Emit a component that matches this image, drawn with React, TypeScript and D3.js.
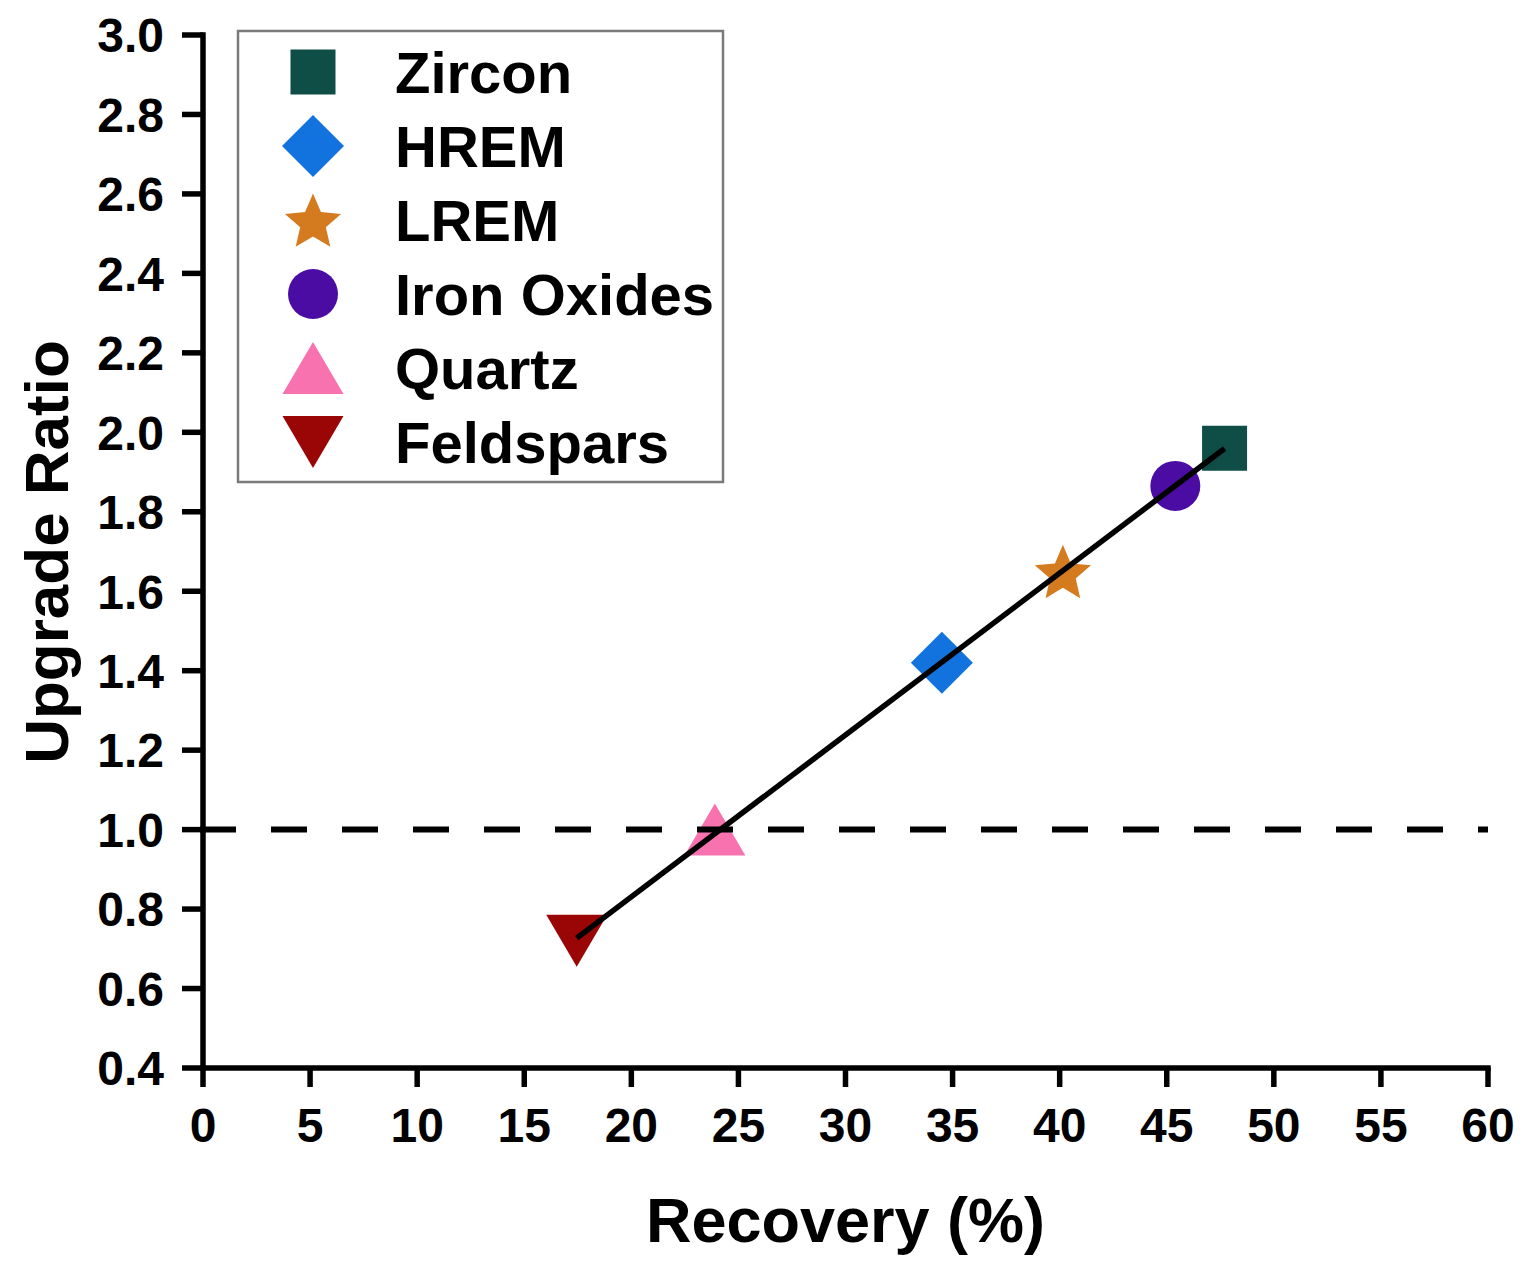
import React from 'react';
import * as d3 from 'd3';

// ---- data ----
const categories = ['Zircon', 'HREM', 'LREM', 'Iron Oxides', 'Quartz', 'Feldspars'];
const recovery = [47.7, 34.5, 40.15, 45.4, 23.9, 17.45];
const upgradeRatio = [1.96, 1.42, 1.65, 1.865, 1.0, 0.72];
const markerColors = ['#0f4d47', '#1373de', '#d47b1f', '#4a0ca3', '#f872b0', '#9a0505'];
const markerShapes = ['square', 'diamond', 'star', 'circle', 'triangleUp', 'triangleDown'];
const xTicks = [0, 5, 10, 15, 20, 25, 30, 35, 40, 45, 50, 55, 60];
const yTicks = [0.4, 0.6, 0.8, 1.0, 1.2, 1.4, 1.6, 1.8, 2.0, 2.2, 2.4, 2.6, 2.8, 3.0];
const referenceLevel = 1.0;
const xTitle = 'Recovery (%)';
const yTitle = 'Upgrade Ratio';

// ---- layout ----
const W = 1527;
const H = 1265;
const M = { left: 203, right: 1488, top: 35, bottom: 1068 };
const FONT = "'Liberation Sans', Arial, Helvetica, sans-serif";

const x = d3.scaleLinear().domain([0, 60]).range([M.left, M.right]);
const y = d3.scaleLinear().domain([0.4, 3.0]).range([M.bottom, M.top]);

const custom = (fn: (ctx: any) => void) => ({ draw: (ctx: any) => fn(ctx) });
const starDraw = (c: any) => {
  const ro = 29.5, ri = 13.5;
  for (let k = 0; k < 10; k++) {
    const r = k % 2 === 0 ? ro : ri;
    const a = (k * Math.PI) / 5 - Math.PI / 2;
    if (k === 0) c.moveTo(r * Math.cos(a), r * Math.sin(a));
    else c.lineTo(r * Math.cos(a), r * Math.sin(a));
  }
  c.closePath();
};
const symbolTypes: Record<string, any> = {
  square: custom((c) => { c.rect(-22.5, -22.5, 45, 45); }),
  diamond: custom((c) => { c.moveTo(0, -31); c.lineTo(31, 0); c.lineTo(0, 31); c.lineTo(-31, 0); c.closePath(); }),
  circle: custom((c) => { c.moveTo(25, 0); c.arc(0, 0, 25, 0, Math.PI * 2); c.closePath(); }),
  star: custom(starDraw),
  triangleUp: custom((c) => { c.moveTo(0, -26); c.lineTo(30.5, 26); c.lineTo(-30.5, 26); c.closePath(); }),
  triangleDown: custom((c) => { c.moveTo(0, 26); c.lineTo(30.5, -26); c.lineTo(-30.5, -26); c.closePath(); }),
};
const markerPath = (shape: string) => d3.symbol().type(symbolTypes[shape])() as string;
const starOffset = (shape: string) => (shape === 'star' ? 3 : 0);

// least squares fit
const mx = d3.mean(recovery) as number;
const my = d3.mean(upgradeRatio) as number;
let sxy = 0, sxx = 0;
recovery.forEach((v, i) => { sxy += (v - mx) * (upgradeRatio[i] - my); sxx += (v - mx) * (v - mx); });
const slope = sxy / sxx;
const intercept = my - slope * mx;
const [xmin, xmax] = d3.extent(recovery) as [number, number];
const fitLine = d3.line<number>().x((d) => x(d)).y((d) => y(intercept + slope * d))([xmin, xmax]) as string;

export default function App() {
  const legendX = 238, legendY = 31, legendW = 485, legendH = 451;
  const legendRow0 = 72, legendStep = 74;
  return (
    <svg width={W} height={H} style={{ position: 'absolute', left: 0, top: 0, background: '#fff' }} fontFamily={FONT}>
      <rect x={0} y={0} width={W} height={H} fill="#fff" />
      {/* markers */}
      {categories.map((c, i) => (
        <path key={c} d={markerPath(markerShapes[i])}
          transform={`translate(${x(recovery[i])},${y(upgradeRatio[i]) + starOffset(markerShapes[i])})`}
          fill={markerColors[i]} />
      ))}
      {/* reference dashed line */}
      <line x1={x(0) - 3} x2={x(60)} y1={y(referenceLevel)} y2={y(referenceLevel)}
        stroke="#000" strokeWidth={6} strokeDasharray="36 35" />
      {/* fit line */}
      <path d={fitLine} stroke="#000" strokeWidth={5.5} fill="none" />
      {/* y axis */}
      <line x1={M.left} x2={M.left} y1={M.top - 2.75} y2={M.bottom + 2.75} stroke="#000" strokeWidth={5.5} />
      {yTicks.map((t) => (
        <g key={t} transform={`translate(0,${y(t)})`}>
          <line x1={M.left - 21} x2={M.left} stroke="#000" strokeWidth={5.5} />
          <text x={164} dy="0.36em" textAnchor="end" fontSize={48} fontWeight="bold">{t.toFixed(1)}</text>
        </g>
      ))}
      {/* x axis */}
      <line x1={M.left - 2.75} x2={M.right + 2.75} y1={M.bottom} y2={M.bottom} stroke="#000" strokeWidth={5.5} />
      {xTicks.map((t) => (
        <g key={t} transform={`translate(${x(t)},0)`}>
          <line y1={M.bottom} y2={M.bottom + 19} stroke="#000" strokeWidth={5.5} />
          <text y={1142} textAnchor="middle" fontSize={48} fontWeight="bold">{t}</text>
        </g>
      ))}
      {/* axis titles */}
      <text x={(M.left + M.right) / 2} y={1242} textAnchor="middle" fontSize={63} fontWeight="bold">{xTitle}</text>
      <text transform={`translate(68,${552}) rotate(-90)`} textAnchor="middle" fontSize={62} fontWeight="bold">{yTitle}</text>
      {/* legend */}
      <rect x={legendX} y={legendY} width={legendW} height={legendH} fill="#fff" stroke="#7a7a7a" strokeWidth={2.5} />
      {categories.map((c, i) => {
        const cy = legendRow0 + i * legendStep;
        return (
          <g key={c}>
            <path d={markerPath(markerShapes[i])} transform={`translate(313,${cy + starOffset(markerShapes[i])})`} fill={markerColors[i]} />
            <text x={395} y={cy} dy="0.36em" fontSize={58} fontWeight="bold">{c}</text>
          </g>
        );
      })}
    </svg>
  );
}
